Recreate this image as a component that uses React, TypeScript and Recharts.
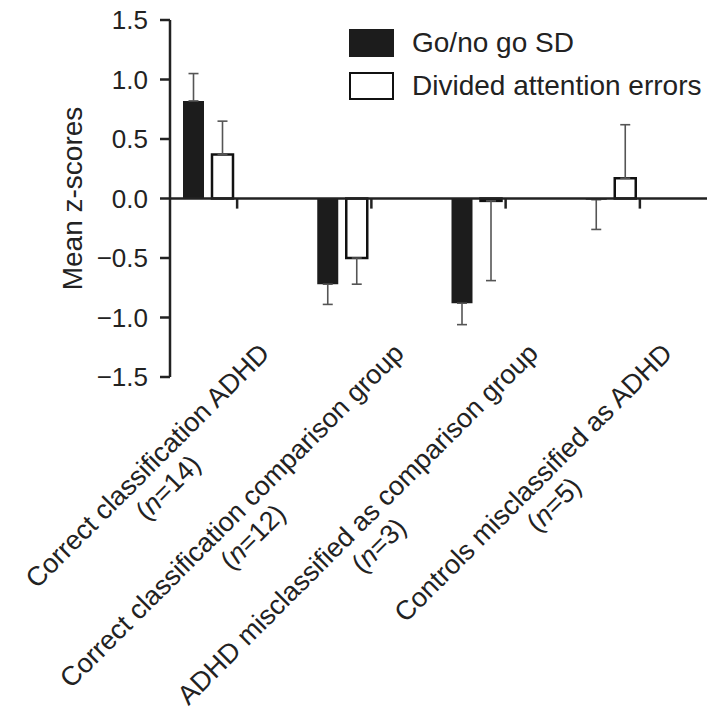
import React from "react";
import {
  BarChart,
  Bar,
  XAxis,
  YAxis,
  ErrorBar,
  ReferenceLine,
  Legend,
} from "recharts";

const categories = [
  "Correct classification ADHD",
  "Correct classification comparison group",
  "ADHD misclassified as comparison group",
  "Controls misclassified as ADHD",
];
const groupN = [14, 12, 3, 5];

const goNoGo = [0.82, -0.72, -0.88, -0.01];
const goNoGoErr = [0.23, 0.17, 0.18, 0.25];
const divided = [0.37, -0.5, -0.02, 0.17];
const dividedErr = [0.28, 0.22, 0.67, 0.45];

const yTicks = [-1.5, -1.0, -0.5, 0, 0.5, 1.0, 1.5];
const seriesNames = ["Go/no go SD", "Divided attention errors"];

const FONT = '"Liberation Sans", Arial, Helvetica, sans-serif';
const INK = "#222";
const TICK_LEN = 0.085;
const LABEL_SIZE = 27;

// error bars point away from zero only
const oneSided = (v: number, e: number) => (v < 0 ? [e, 0] : [0, e]);

const data = categories.map((name, i) => ({
  name,
  goNoGo: goNoGo[i],
  goNoGoErr: oneSided(goNoGo[i], goNoGoErr[i]),
  divided: divided[i],
  dividedErr: oneSided(divided[i], dividedErr[i]),
}));

let ctx: CanvasRenderingContext2D | null = null;
function textWidth(t: string, size: number) {
  if (!ctx) ctx = document.createElement("canvas").getContext("2d");
  if (!ctx) return t.length * size * 0.5;
  ctx.font = `${size}px ${FONT}`;
  return ctx.measureText(t).width;
}

function CategoryTick(props: any) {
  const { x, y, payload } = props;
  const name: string = payload.value;
  const i = categories.indexOf(name);
  const w = textWidth(name, LABEL_SIZE);
  return (
    <g transform={`translate(${x + 34},${y - 22}) rotate(-45)`}>
      <text x={0} y={0} textAnchor="end" fontSize={LABEL_SIZE} fill={INK} fontFamily={FONT}>
        {name}
      </text>
      <text x={-w / 2} y={30} textAnchor="middle" fontSize={LABEL_SIZE} fill={INK} fontFamily={FONT}>
        <tspan>(</tspan>
        <tspan fontStyle="italic">n</tspan>
        <tspan>={groupN[i]})</tspan>
      </text>
    </g>
  );
}

function LegendBox() {
  const swatch = { width: 45, height: 28, boxSizing: "border-box" as const, marginRight: 18 };
  return (
    <div style={{ fontFamily: FONT, fontSize: 28, color: INK, lineHeight: "28px" }}>
      <div style={{ display: "flex", alignItems: "center", height: 28, marginBottom: 15 }}>
        <span style={{ ...swatch, background: "#1c1c1c" }} />
        {seriesNames[0]}
      </div>
      <div style={{ display: "flex", alignItems: "center", height: 28 }}>
        <span style={{ ...swatch, background: "#fff", border: "2.5px solid #111" }} />
        {seriesNames[1]}
      </div>
    </div>
  );
}

export default function App() {
  return (
    <div style={{ position: "absolute", left: 0, top: 0, background: "#fff" }}>
      <BarChart
        width={713}
        height={720}
        data={data}
        margin={{ top: 20, right: 6, bottom: 0, left: 0 }}
        barGap={8}
      >
        <XAxis
          dataKey="name"
          height={343}
          axisLine={false}
          tickLine={false}
          tickSize={0}
          tickMargin={0}
          interval={0}
          tick={<CategoryTick />}
        />
        <YAxis
          width={170}
          domain={[-1.5, 1.5]}
          ticks={yTicks}
          interval={0}
          tickSize={10}
          tickMargin={12}
          axisLine={{ stroke: INK, strokeWidth: 2.5 }}
          tickLine={{ stroke: INK, strokeWidth: 2.5 }}
          tick={{ fill: INK, fontSize: 26, fontFamily: FONT }}
          tickFormatter={(v: number) => v.toFixed(1).replace("-", "\u2212")}
          label={{
            content: ({ viewBox }: any) => (
              <text
                x={viewBox.x + 82}
                y={viewBox.y + viewBox.height / 2}
                transform={`rotate(-90, ${viewBox.x + 82}, ${viewBox.y + viewBox.height / 2})`}
                textAnchor="middle"
                fontSize={28}
                fill={INK}
                fontFamily={FONT}
              >
                Mean z-scores
              </text>
            ),
          }}
        />
        <Legend
          layout="vertical"
          align="center"
          verticalAlign="middle"
          content={<LegendBox />}
          wrapperStyle={{ left: 349, top: 29, width: "auto" }}
        />
        <Bar dataKey="goNoGo" barSize={21} fill="#1c1c1c" isAnimationActive={false}>
          <ErrorBar dataKey="goNoGoErr" width={5} stroke="#555" strokeWidth={1.6} isAnimationActive={false} />
        </Bar>
        <Bar
          dataKey="divided"
          barSize={21}
          fill="#fff"
          stroke="#111"
          strokeWidth={2.5}
          isAnimationActive={false}
        >
          <ErrorBar dataKey="dividedErr" width={5} stroke="#555" strokeWidth={1.6} isAnimationActive={false} />
        </Bar>
        {/* empty series keeps the pair at the left of each band, like the original */}
        <Bar dataKey="spacer" barSize={50} fill="none" isAnimationActive={false} legendType="none" />
        <ReferenceLine y={0} stroke={INK} strokeWidth={2.5} />
        {categories.map((c) => (
          <ReferenceLine
            key={c}
            segment={[
              { x: c, y: 0 },
              { x: c, y: -TICK_LEN },
            ]}
            stroke={INK}
            strokeWidth={2.5}
          />
        ))}
      </BarChart>
    </div>
  );
}
